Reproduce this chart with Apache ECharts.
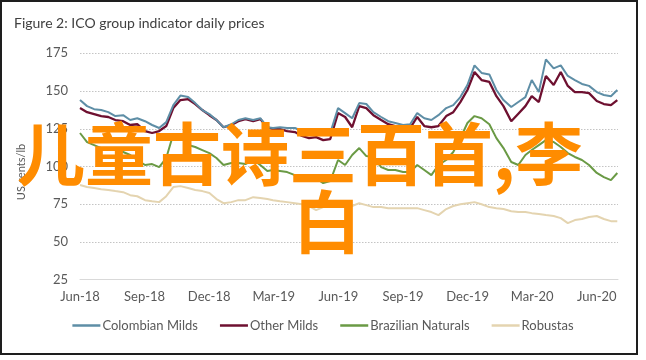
<!DOCTYPE html>
<html>
<head>
<meta charset="utf-8">
<script src="https://cdn.jsdelivr.net/npm/echarts@6/dist/echarts.min.js"></script>
<style>
html,body{margin:0;padding:0;background:#fff;}
#chart{width:646px;height:360px;}
</style>
</head>
<body>
<div id="chart"></div>
<script>
const titleText = 'Figure 2: ICO group indicator daily prices';
const yAxisName = 'US cents/lb';
const seriesNames = ['Colombian Milds', 'Other Milds', 'Brazilian Naturals', 'Robustas'];
const watermarkLines = ['儿童古诗三百首,李', '白'];

const dates = [
'2018-06-01','2018-06-11','2018-06-21','2018-07-01','2018-07-11','2018-07-21','2018-08-01','2018-08-11','2018-08-21','2018-09-01','2018-09-11','2018-09-21','2018-10-01','2018-10-11','2018-10-21','2018-11-01','2018-11-11','2018-11-21','2018-12-01','2018-12-11','2018-12-21',
'2019-01-01','2019-01-11','2019-01-21','2019-02-01','2019-02-11','2019-02-21','2019-03-01','2019-03-11','2019-03-21','2019-04-01','2019-04-11','2019-04-21','2019-05-01','2019-05-11','2019-05-21','2019-06-01','2019-06-11','2019-06-21','2019-07-01','2019-07-11','2019-07-21','2019-08-01','2019-08-11','2019-08-21','2019-09-01','2019-09-11','2019-09-21','2019-10-01','2019-10-11','2019-10-21','2019-11-01','2019-11-11','2019-11-21','2019-12-01','2019-12-11','2019-12-21',
'2020-01-01','2020-01-11','2020-01-21','2020-02-01','2020-02-11','2020-02-21','2020-03-01','2020-03-11','2020-03-21','2020-04-01','2020-04-11','2020-04-21','2020-05-01','2020-05-11','2020-05-21','2020-06-01','2020-06-11','2020-06-21','2020-06-30'
];

const colombianMilds = [
144,140,138,137.4,136,133.4,134,130.8,132,130,127.5,125.5,129.4,140.7,147,146,142,137.4,134.7,130.8,126,
128,130.8,132,130.8,132,126,125.5,126,125.5,125.5,123.5,122.2,122.8,121.5,122.2,138.7,135.4,132,142,141.4,136,132.8,130,128.8,127.5,128,135.4,132,130.8,134,138.7,140.7,146,154,167,162,
161,150.7,144,139.4,142.7,146,157.3,149.3,171,165,167,160,157.3,154.7,153.4,149.3,147.4,146.6,150.7
];
const otherMilds = [
138.7,136,134.7,133.4,132.8,130.8,130,127.5,128,123.5,122.2,123.5,126.8,138.7,144,144.6,141.4,137.4,134,130.8,126,
127.5,130,131.4,130,131.4,126,124.8,124.8,123.5,122.8,120.2,118.8,119.5,117.5,118.2,135.4,132.8,126,140,138.7,134,130.8,128,126.8,125.5,125.5,132.8,126.8,126,126.8,133.4,136,142.7,150.7,162.6,157.3,
156,146.6,140,130,135,140,146.6,142.7,160,154,162.6,153.4,149.3,149.3,148.6,143.4,141.4,140.7,144
];
const brazilianNaturals = [
122.2,116.2,114.2,112.2,110.9,110.9,109.6,107.6,104.3,101,101.6,99.6,105.6,121.5,120.2,114.2,112.9,110.9,108.9,105.6,101,
102.3,102.3,101.6,104.3,101,97,97.7,97,96.3,94.3,91.7,91,92.3,89,90.3,104.3,101,107.6,112.2,106.9,106.3,99.6,97.7,97.7,96.3,96.3,101,97.7,94.3,101,104.3,109.6,118.8,128.8,133.4,132,
128,118.8,112.2,103,101,107.6,110.9,114.2,117.5,116.2,112.9,108.9,106.3,104.3,101,95.7,93,91,95.7
];
const robustas = [
87.7,86.4,85.7,85,84.4,83.7,83,81,80.3,77.7,77,76.4,80.3,86.4,87,85.7,84.4,83.7,82.4,78.4,75.7,
76.4,77.7,77.7,79.7,79.1,78.4,77.7,77,76.4,75.7,75,73.8,71.1,73.1,75.7,76.4,73.8,73.8,75.7,74.4,73.1,73.1,72.4,72.4,72.4,72.4,72.4,71.1,69.8,67.8,71.8,73.8,75,75.7,76.4,75,
73.1,72.4,71.8,70.4,69.8,69.8,69.1,68.5,67.8,67.2,65.8,62.5,64.5,65.2,66.5,67.2,65.2,63.8,63.8
];

const axisStart = '2018-06-01';
const axisEnd = '2020-07-01';
const monthNames = ['Jan','Feb','Mar','Apr','May','Jun','Jul','Aug','Sep','Oct','Nov','Dec'];

const DAY = 86400000;
const t0 = Date.parse(axisStart + 'T00:00:00Z');
const dayOf = s => (Date.parse(s + 'T00:00:00Z') - t0) / DAY;
const toPairs = vals => vals.map((v, i) => [dayOf(dates[i]), v]);

const colors = ['#5e8ea6', '#6e1030', '#6a9a45', '#e4d4b0'];
const FONT = 'Lato, "Open Sans", sans-serif';

const chart = echarts.init(document.getElementById('chart'), null, {renderer: 'canvas'});
const allSeries = [colombianMilds, otherMilds, brazilianNaturals, robustas];

chart.setOption({
  animation: false,
  backgroundColor: '#ffffff',
  grid: {left: 80, right: 28, top: 53.3, bottom: 80.3, containLabel: false},
  xAxis: {
    type: 'value',
    min: 0,
    max: dayOf(axisEnd),
    interval: 91.375,
    axisLine: {show: true, lineStyle: {color: '#d9d9d9', width: 1}},
    axisTick: {show: false},
    splitLine: {show: false},
    axisLabel: {
      margin: 11,
      color: '#595959',
      fontFamily: FONT,
      fontSize: 13,
      showMaxLabel: false,
      formatter: v => {
        const d = new Date(t0 + (v + 10) * DAY);
        return monthNames[d.getUTCMonth()] + '-' + String(d.getUTCFullYear()).slice(2);
      }
    }
  },
  yAxis: {
    type: 'value',
    min: 25,
    max: 175,
    interval: 25,
    axisLine: {show: false},
    axisTick: {show: false},
    splitLine: {show: true, lineStyle: {color: '#c4c4c4', type: [1.5, 1.5], width: 1}},
    axisLabel: {margin: 12, color: '#595959', fontFamily: FONT, fontSize: 13}
  },
  legend: {
    data: seriesNames,
    left: 'center',
    top: 314,
    icon: 'rect',
    itemWidth: 28,
    itemHeight: 2.5,
    itemGap: 22,
    textStyle: {color: '#595959', fontFamily: FONT, fontSize: 13, padding: [0, 0, 0, -3]}
  },
  series: allSeries.map((vals, i) => ({
    name: seriesNames[i],
    type: 'line',
    data: toPairs(vals),
    showSymbol: false,
    symbol: 'none',
    lineStyle: {color: colors[i], width: i === 1 ? 2.3 : 2},
    itemStyle: {color: colors[i]},
    z: 10 - i
  })),
  graphic: [
    {type: 'rect', shape: {x: 1, y: 1, width: 636, height: 353}, style: {fill: 'none', stroke: '#1e1e1e', lineWidth: 2}, z: 100, silent: true},
    {type: 'text', x: 14, y: 23.5, style: {text: titleText, fill: '#404040', font: '14px Lato, sans-serif', textAlign: 'left', textVerticalAlign: 'middle'}, z: 100},
    {type: 'text', x: 21, y: 172, rotation: Math.PI / 2, style: {text: yAxisName, fill: '#595959', font: '11px Lato, sans-serif', textAlign: 'center', textVerticalAlign: 'middle'}, z: 100},
    {type: 'text', x: 17, y: 154, style: {text: watermarkLines[0], fill: '#ff8c00', font: 'bold 68px "Noto Sans CJK SC"', textAlign: 'left', textVerticalAlign: 'middle'}, z: 200},
    {type: 'text', x: 293, y: 222, style: {text: watermarkLines[1], fill: '#ff8c00', font: 'bold 68px "Noto Sans CJK SC"', textAlign: 'left', textVerticalAlign: 'middle'}, z: 200}
  ]
});
</script>
</body>
</html>
